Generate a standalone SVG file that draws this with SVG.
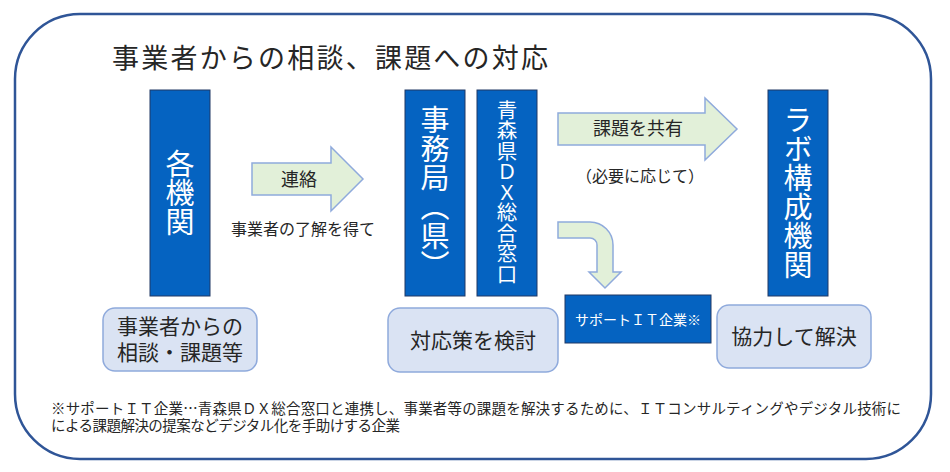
<svg xmlns="http://www.w3.org/2000/svg" width="950" height="472" viewBox="0 0 950 472">
<defs>
<style>
text{font-family:"Noto Sans CJK JP","Noto Sans",sans-serif;dominant-baseline:central;fill:#262626}
.blue{fill:#0563C1;stroke:#203864;stroke-width:1}
.soft{fill:#DAE3F3;stroke:#8FAADC;stroke-width:1.5}
.arrow{fill:#E2F0D9;stroke:#8FAADC;stroke-width:1.5}
.vt{writing-mode:vertical-rl;text-anchor:middle;fill:#ffffff}
.w{fill:#ffffff}
.c{text-anchor:middle}
</style>
</defs>
<rect x="0" y="0" width="950" height="472" fill="#ffffff"/>
<rect id="frame" x="15" y="14" width="916" height="445" rx="65" ry="65" fill="none" stroke="#2F5597" stroke-width="2.5"/>
<text id="title" x="112" y="56" font-size="27" textLength="436" lengthAdjust="spacing">事業者からの相談、課題への対応</text>

<g id="kakukikan">
<rect class="blue" x="150" y="90" width="60" height="206"/>
<text class="vt" x="180" y="193" font-size="29">各機関</text>
</g>
<g id="jimukyoku">
<rect class="blue" x="405" y="90" width="60" height="206"/>
<text class="vt" x="435" y="192" font-size="29">事務局（県）</text>
</g>
<g id="madoguchi">
<rect class="blue" x="477" y="90" width="60" height="206"/>
<text class="vt" x="507" y="192" font-size="20.5">青森県ＤＸ総合窓口</text>
</g>
<g id="labo">
<rect class="blue" x="768" y="90" width="60" height="206"/>
<text class="vt" x="798" y="192" font-size="29">ラボ構成機関</text>
</g>
<g id="support">
<rect class="blue" x="565" y="295" width="146" height="48"/>
<text class="c w" x="638" y="319" font-size="14">サポートＩＴ企業※</text>
</g>
<g id="soudan">
<rect class="soft" x="103" y="308" width="154" height="63" rx="12"/>
<text class="c" x="180" y="325" font-size="21">事業者からの</text>
<text class="c" x="180" y="351" font-size="21">相談・課題等</text>
</g>
<g id="kentou">
<rect class="soft" x="388" y="308" width="170" height="64" rx="12"/>
<text class="c" x="473" y="339" font-size="21">対応策を検討</text>
</g>
<g id="kyouryoku">
<rect class="soft" x="717" y="305" width="154" height="63" rx="12"/>
<text class="c" x="794" y="335" font-size="21">協力して解決</text>
</g>

<g id="connectors">
<path class="arrow" d="M252,163 H331 V147 L363,179 L331,211 V195 H252 Z"/>
<text class="c" x="299" y="178" font-size="18">連絡</text>
<text class="c" x="303" y="228" font-size="16">事業者の了解を得て</text>
<path class="arrow" d="M558,113 H705 V98 L737,129 L705,160 V145 H558 Z"/>
<text class="c" x="638" y="127" font-size="18">課題を共有</text>
<text class="c" x="640" y="175" font-size="16">（必要に応じて）</text>
<path class="arrow" d="M558,222 H590 A23,23 0 0 1 613,245 V272 H621 L605,288 L589,272 H597 V245 A7,7 0 0 0 590,238 H558 Z"/>
</g>

<g id="footnote">
<text x="51" y="407" font-size="14.5" textLength="850" lengthAdjust="spacing">※サポートＩＴ企業…青森県ＤＸ総合窓口と連携し、事業者等の課題を解決するために、ＩＴコンサルティングやデジタル技術に</text>
<text x="51" y="424" font-size="14.5" textLength="349" lengthAdjust="spacing">による課題解決の提案などデジタル化を手助けする企業</text>
</g>
</svg>
